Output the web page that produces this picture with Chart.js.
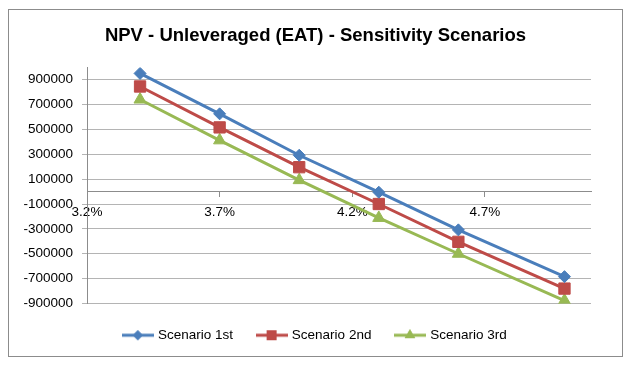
<!DOCTYPE html>
<html>
<head>
<meta charset="utf-8">
<script src="https://cdn.jsdelivr.net/npm/chart.js@4.4.1/dist/chart.umd.min.js"></script>
<style>
    html, body { margin: 0; padding: 0; background: #fff; }
    #box {
        position: absolute;
        left: 8px; top: 9px;
        width: 613px; height: 346px;
        border: 1px solid #8c8c8c;
    }
</style>
</head>
<body>
<div id="box"><canvas id="npv" width="613" height="346"></canvas></div>
<script>
// discount rate (%) and NPV per scenario
const rates = [3.4, 3.7, 4.0, 4.3, 4.6, 5.0]
const scenario1 = [950000, 625000, 292000, -5000, -308000, -684000]
const scenario2 = [845000, 516000, 196000, -100000, -404000, -780000]
const scenario3 = [740000, 412000, 92000, -212000, -500000, -876000]

const xTicks = [3.2, 3.7, 4.2, 4.7]
const yTicks = [900000, 700000, 500000, 300000, 100000, -100000, -300000, -500000, -700000, -900000]

const font = "'Liberation Sans', Arial, sans-serif"

function legendIcon(color, style, radius) {
    let c = document.createElement('canvas')
    c.width = 32
    c.height = 16
    let ctx = c.getContext('2d')
    ctx.strokeStyle = color
    ctx.lineWidth = 3
    ctx.beginPath()
    ctx.moveTo(0, 8)
    ctx.lineTo(32, 8)
    ctx.stroke()
    ctx.fillStyle = color
    Chart.helpers.drawPoint(ctx, { pointStyle: style, radius: radius, borderWidth: 0 }, 16, 8)
    ctx.fill()
    return c
}

let series = [
    { label: 'Scenario 1st', data: scenario1, color: '#4a7ebb', style: 'rectRot', r: 6 },
    { label: 'Scenario 2nd', data: scenario2, color: '#be4b48', style: 'rect', r: 8 },
    { label: 'Scenario 3rd', data: scenario3, color: '#98b954', style: 'triangle', r: 7 }
]

let datasets = series.map(s => {
    return {
        label: s.label,
        data: rates.map((r, i) => ({ x: r, y: s.data[i] })),
        borderColor: s.color,
        backgroundColor: s.color,
        borderWidth: 3,
        pointStyle: s.style,
        pointRadius: s.r,
        pointBorderWidth: 1,
        showLine: true,
        icon: legendIcon(s.color, s.style, s.r - 1)
    }
})

const config = {
    type: 'scatter',
    data: { datasets: datasets },
    options: {
        responsive: false,
        animation: false,
        layout: { padding: { left: 0, right: 0, top: 0, bottom: 4 } },
        plugins: {
            title: {
                display: true,
                text: 'NPV - Unleveraged (EAT) - Sensitivity Scenarios',
                color: '#000',
                font: { family: font, size: 18.5, weight: 'bold' },
                padding: { top: 15, bottom: 20 }
            },
            legend: {
                position: 'bottom',
                labels: {
                    usePointStyle: true,
                    pointStyleWidth: 27,
                    padding: 25,
                    color: '#000',
                    font: { family: font, size: 13.5 },
                    generateLabels: chart => chart.data.datasets.map((ds, i) => ({
                        text: ds.label,
                        pointStyle: ds.icon,
                        fillStyle: ds.borderColor,
                        strokeStyle: ds.borderColor,
                        lineWidth: 0,
                        hidden: false,
                        datasetIndex: i
                    }))
                }
            },
            tooltip: { enabled: false }
        },
        scales: {
            x: {
                type: 'linear',
                min: 3.2,
                max: 5.1,
                position: { y: 0 },
                afterBuildTicks: axis => { axis.ticks = xTicks.map(v => ({ value: v })) },
                grid: { drawOnChartArea: false, drawTicks: true, tickLength: 5, color: '#8c8c8c' },
                border: { color: '#8c8c8c', width: 1 },
                ticks: {
                    maxRotation: 0,
                    autoSkip: false,
                    padding: 8,
                    color: '#000',
                    font: { family: font, size: 13.5 },
                    callback: v => v.toFixed(1) + '%'
                }
            },
            y: {
                min: -900000,
                max: 1000000,
                afterBuildTicks: axis => { axis.ticks = yTicks.map(v => ({ value: v })) },
                afterFit: axis => { axis.width = 78 },
                grid: { color: '#b4b4b4', tickLength: 5 },
                border: { color: '#8c8c8c', width: 1 },
                ticks: {
                    autoSkip: false,
                    padding: 9,
                    color: '#000',
                    font: { family: font, size: 13.5 },
                    callback: v => String(v)
                }
            },
            // empty right axis, only keeps the white margin on the right
            yRight: {
                position: 'right',
                afterFit: axis => { axis.width = 31 },
                grid: { display: false },
                border: { display: false },
                ticks: { display: false }
            }
        }
    }
}

const myChart = new Chart(document.getElementById('npv'), config)
</script>
</body>
</html>
